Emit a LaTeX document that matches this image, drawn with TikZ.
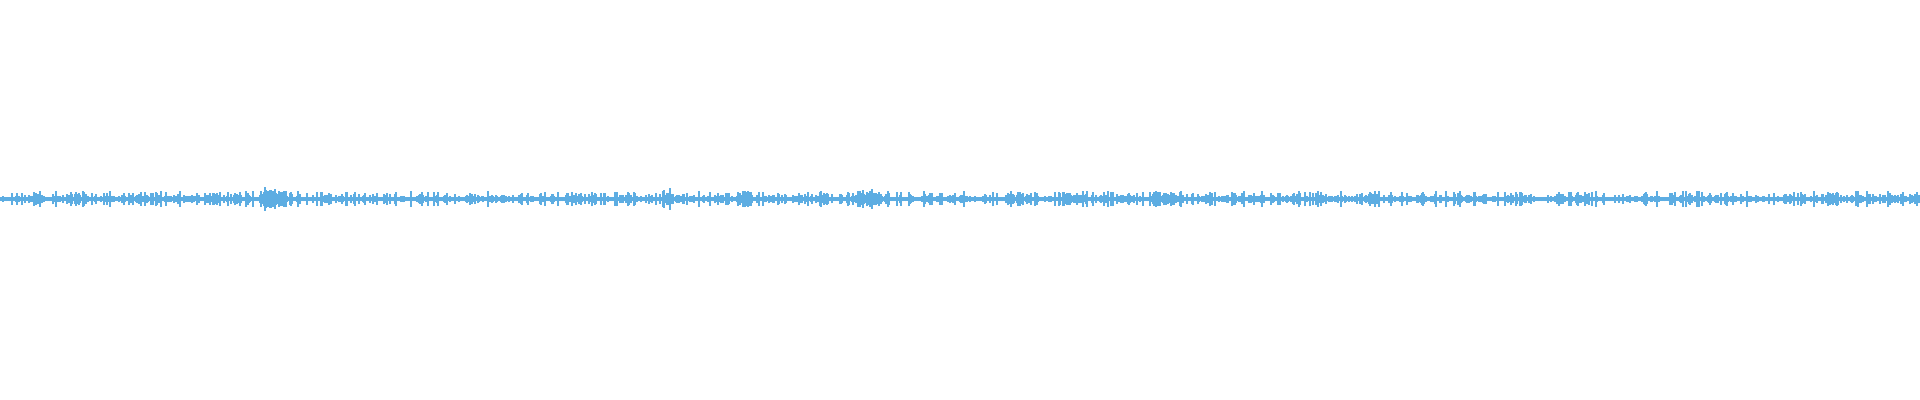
\documentclass[tikz,border=0pt]{standalone}
\usepackage{tikz}
\definecolor{wave}{RGB}{93,173,226}
\tikzset{waveline/.style={wave, line width=0.32pt}}
\begin{document}
\begin{tikzpicture}[x=0.01cm,y=0.01cm]
\useasboundingbox (0,0) rectangle (1920,400);
\pgfmathsetseed{4242}
\draw[waveline, line width=1pt] (0,201) -- (1920,201);
\foreach \px in {0,1,...,1920}{
  \pgfmathsetmacro{\burst}{(abs(\px-270)<12)*7+(abs(\px-668)<6)*6+(abs(\px-747)<6)*6+(abs(\px-868)<12)*4+(abs(\px-1072)<10)*4+(abs(\px-1162)<10)*4}
  \pgfmathsetmacro{\h}{2+6*rnd^4+\burst*rnd}
  \draw[waveline] (\px,201-\h) -- (\px,201+\h);
}
\end{tikzpicture}
\end{document}
